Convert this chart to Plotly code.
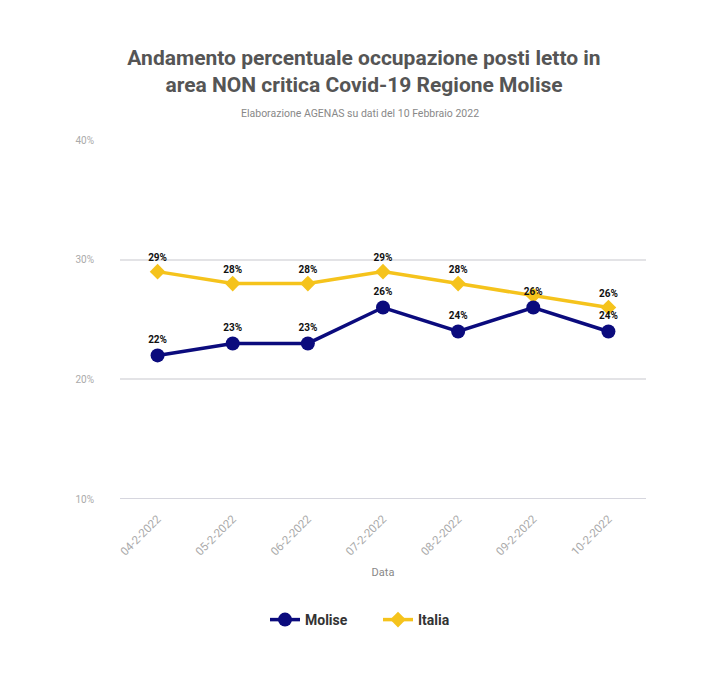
import plotly.graph_objects as go

dates = ["04-2-2022", "05-2-2022", "06-2-2022", "07-2-2022", "08-2-2022", "09-2-2022", "10-2-2022"]
molise = [22, 23, 23, 26, 24, 26, 24]
italia = [29, 28, 28, 29, 28, 27, 26]
italia_labels = ["29%", "28%", "28%", "29%", "28%", "", "26%"]
molise_labels = [f"{v}%" for v in molise]
yticks = [10, 20, 30, 40]

label_font = dict(family="Roboto", size=10, color="#111111", weight="bold")

fig = go.Figure()
fig.add_trace(go.Scatter(
    x=dates, y=italia, name="Italia", mode="lines+markers+text", legendrank=2,
    line=dict(color="#f5c31c", width=3.5),
    marker=dict(symbol="diamond", size=12, color="#f5c31c"),
    text=italia_labels, textposition="top center", textfont=label_font,
    cliponaxis=False,
))
fig.add_trace(go.Scatter(
    x=dates, y=molise, name="Molise", mode="lines+markers+text", legendrank=1,
    line=dict(color="#0b0b7d", width=3.5),
    marker=dict(symbol="circle", size=14, color="#0b0b7d"),
    text=molise_labels, textposition="top center", textfont=label_font,
    cliponaxis=False,
))

# page body has an 8px margin; figure is sized so that the plot lands where the reference has it
W, H = 712, 673
L, R, T, B = 112, 74, 132, 182
plot_w = W - L - R
plot_h = H - T - B
cx = (352 - L) / plot_w  # horizontal centre of the page, in paper units

fig.update_layout(
    width=W, height=H,
    paper_bgcolor="white", plot_bgcolor="white",
    margin=dict(l=L, r=R, t=T, b=B),
    font=dict(family="Roboto", color="#999999"),
    title=dict(
        text="Andamento percentuale occupazione posti letto in<br>area NON critica Covid-19 Regione Molise",
        x=0.5, xanchor="center", y=1 - 56.5 / H, yanchor="middle",
        font=dict(family="Roboto", size=21, color="#555555", weight="bold"),
    ),
    showlegend=True,
    legend=dict(
        orientation="h", x=(257 - L) / plot_w, xanchor="left",
        y=-(612 - (T + plot_h)) / plot_h, yanchor="middle",
        font=dict(family="Roboto", size=14, color="#333333", weight="bold"),
        itemwidth=30, entrywidth=68,
    ),
    annotations=[dict(
        text="Elaborazione AGENAS su dati del 10 Febbraio 2022",
        x=cx, xref="paper", xanchor="center",
        y=(T + plot_h - 105) / plot_h, yref="paper", yanchor="middle", showarrow=False,
        font=dict(family="Roboto", size=10.5, color="#888888"),
    )],
)

fig.update_xaxes(
    type="category", showgrid=False, zeroline=False, showline=False,
    tickangle=-45, tickfont=dict(family="Roboto", size=11.5, color="#aaaaaa"),
    ticklabelstandoff=10,
    title=dict(text="Data", font=dict(family="Roboto", size=11, color="#888888"), standoff=10),
    range=[-0.5, len(dates) - 0.5],
)
fig.update_yaxes(
    range=[10, 40], tickvals=yticks, ticktext=[f"{v}%" for v in yticks],
    showgrid=True, gridcolor="#e3e3e6", gridwidth=2, zeroline=False,
    showline=False, ticks="", ticklabelstandoff=25,
    tickfont=dict(family="Roboto", size=10, color="#aaaaaa"),
)
fig.add_shape(type="line", xref="paper", yref="y", x0=0, x1=1, y0=10, y1=10,
              line=dict(color="#d6d6de", width=2))

fig.write_html("out.html")
